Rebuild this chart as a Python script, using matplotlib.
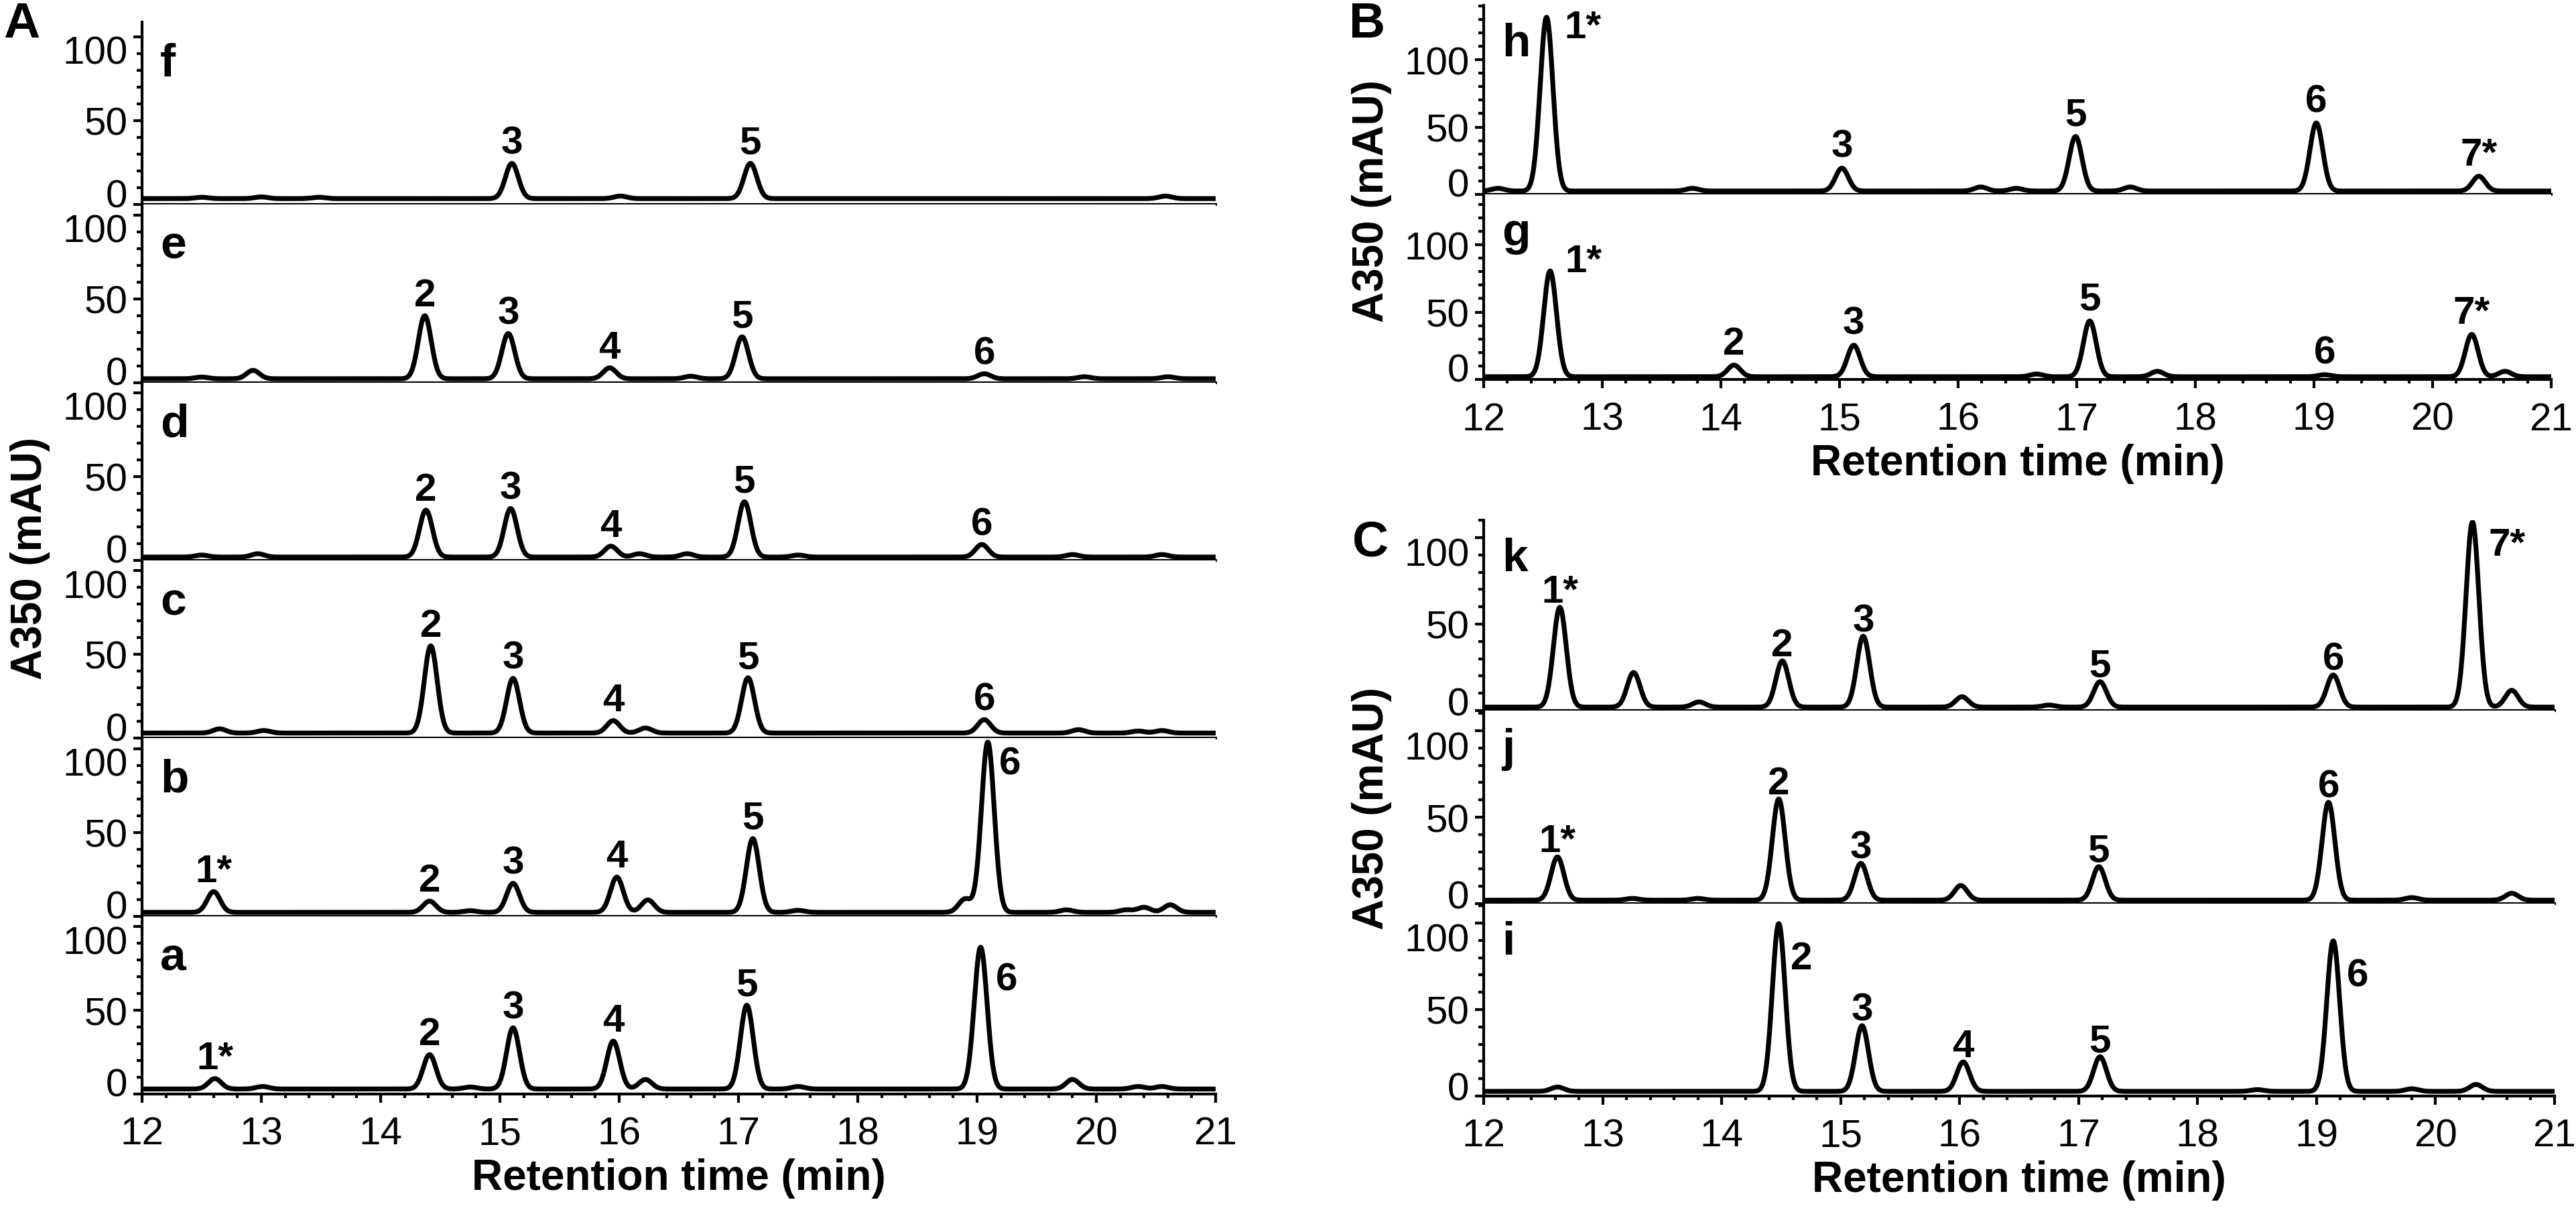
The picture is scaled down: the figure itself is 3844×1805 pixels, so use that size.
import numpy as np
import matplotlib
matplotlib.use("Agg")
import matplotlib.pyplot as plt
from matplotlib.ticker import MultipleLocator, FixedLocator
from matplotlib.transforms import ScaledTranslation

plt.rcParams["font.family"] = ["Liberation Sans", "DejaVu Sans"]

# peak tables:
# retention time (min), height above baseline (mAU), peak label
f_base = 3.5
f_rt = [12.5, 13.0, 13.48, 15.10, 16.01, 17.10, 20.58]
f_h = [0.8, 1.0, 0.8, 21, 1.5, 21, 1.5]
f_lab = ["", "", "", "3", "", "5", ""]

e_base = 2.4
e_rt = [12.5, 12.93, 14.37, 15.07, 15.92, 16.6, 17.03, 19.06, 19.9, 20.6]
e_h = [1.0, 5, 37.6, 27, 6.5, 1.5, 25, 3, 1.2, 1.2]
e_lab = ["", "", "2", "3", "4", "", "5", "6", "", ""]

d_base = 2.0
d_rt = [12.5, 12.97, 14.38, 15.09, 15.93, 16.17, 16.57, 17.05, 17.5, 19.04, 19.8, 20.55]
d_h = [1.2, 2, 28, 29, 6.5, 2, 2, 33, 1.2, 7.5, 1.5, 1.5]
d_lab = ["", "", "2", "3", "4", "", "", "5", "", "6", "", ""]

c_base = 3.0
c_rt = [12.65, 13.02, 14.42, 15.11, 15.95, 16.22, 17.08, 19.06, 19.85, 20.35, 20.55]
c_h = [2.5, 1.5, 52, 32.6, 7.4, 3, 33, 8, 2, 1.2, 1.5]
c_lab = ["", "", "2", "3", "4", "", "5", "6", "", "", ""]

b_base = 2.4
b_rt = [12.60, 14.41, 14.75, 15.11, 15.98, 16.24, 17.12, 17.5, 18.9, 19.09, 19.75, 20.25, 20.4, 20.62]
b_h = [12.4, 6.7, 1.0, 17.3, 21, 7.4, 44, 1.2, 8, 101.6, 1.5, 1.5, 3, 4.5]
b_lab = ["1*", "2", "", "3", "4", "", "5", "", "", "6", "", "", "", ""]

a_base = 3.0
a_rt = [12.61, 13.01, 14.41, 14.75, 15.11, 15.95, 16.22, 17.07, 17.5, 19.03, 19.80, 20.35, 20.55]
a_h = [6.2, 1.5, 20.5, 1.2, 36.5, 28.6, 5.7, 50, 1.5, 84.6, 5.7, 1.5, 1.5]
a_lab = ["1*", "", "2", "", "3", "4", "", "5", "", "6", "", "", ""]

h_base = 2.5
h_rt = [12.12, 12.53, 13.76, 15.02, 16.19, 16.49, 16.99, 17.45, 19.02, 20.39]
h_h = [2, 129, 2, 17, 3, 2, 40.5, 3, 50.5, 11]
h_lab = ["", "1*", "", "3", "", "", "5", "", "6", "7*"]

g_base = 2.0
g_rt = [12.56, 14.11, 15.12, 16.66, 17.11, 17.68, 19.09, 20.33, 20.61]
g_h = [78.5, 8.6, 23.4, 2, 41.4, 4, 1.5, 31.4, 4]
g_lab = ["1*", "2", "3", "", "5", "", "6", "7*", ""]

k_base = 2.0
k_rt = [12.64, 13.26, 13.81, 14.51, 15.19, 16.02, 16.75, 17.18, 19.14, 20.31, 20.64]
k_h = [57.7, 20, 3, 26.7, 41, 6, 1.2, 14.7, 18.6, 107, 9.7]
k_lab = ["1*", "", "", "2", "3", "", "", "5", "6", "7*", ""]

j_base = 2.0
j_rt = [12.62, 13.25, 13.8, 14.48, 15.17, 16.01, 17.17, 19.10, 19.8, 20.64]
j_h = [25, 1, 1, 58.5, 21.3, 8.5, 19.4, 56.6, 1.5, 4]
j_lab = ["1*", "", "", "2", "3", "", "5", "6", "", ""]

i_base = 2.7
i_rt = [12.62, 14.48, 15.18, 16.03, 17.18, 18.5, 19.14, 19.8, 20.34]
i_h = [2.5, 97, 38, 17, 20, 1, 87, 1.5, 4]
i_lab = ["", "2", "3", "4", "5", "", "6", "", ""]

traces = {
    "a": (a_base, a_rt, a_h, a_lab), "b": (b_base, b_rt, b_h, b_lab),
    "c": (c_base, c_rt, c_h, c_lab), "d": (d_base, d_rt, d_h, d_lab),
    "e": (e_base, e_rt, e_h, e_lab), "f": (f_base, f_rt, f_h, f_lab),
    "g": (g_base, g_rt, g_h, g_lab), "h": (h_base, h_rt, h_h, h_lab),
    "i": (i_base, i_rt, i_h, i_lab), "j": (j_base, j_rt, j_h, j_lab),
    "k": (k_base, k_rt, k_h, k_lab),
}

# ---- layout (pixels of the 3844x1806 canvas) ----
W, H, DPI = 3844, 1806, 200
PT = 72.0 / DPI  # points per pixel

columns = [
    # name, x0, x1, px per mAU, label gap px, rows (letter, top, bottom)
    ("A", 212, 1814, 2.5, 30, [("f", 34, 306), ("e", 306, 572), ("d", 572, 837),
                               ("c", 837, 1102), ("b", 1102, 1368), ("a", 1368, 1633)]),
    ("B", 2214, 3807, 2.01, 32, [("h", 9, 291), ("g", 291, 567)]),
    ("C", 2214, 3812, 2.58, 23, [("k", 777, 1061), ("j", 1061, 1349), ("i", 1349, 1636)]),
]

# the 0 / 100 tick labels sit nudged toward the panel middle (px, up positive)
label_nudge = {"A": {0: 18, 100: -19}, "B": {0: 18}, "C": {0: 15, 100: -21}}

# labels drawn beside the peak (dx, dy in px from the peak apex)
side_labels = {
    ("b", "6"): (17, -33), ("a", "6"): (23, -48),
    ("h", "1*"): (27, -15), ("g", "1*"): (22, 14),
    ("i", "2"): (18, -52), ("i", "6"): (20, -52), ("k", "7*"): (24, -34),
}

big_letters = {"A": (32, 36), "B": (2040, 37), "C": (2045, 810)}
ylabel_pos = {"A": (45, 833), "B": (2047, 300), "C": (2047, 1206)}

LW_AX = 1.5
LW_TR = 2.6
t = np.linspace(12, 21, 3000)
SIGMA = 0.054

fig = plt.figure(figsize=(W / DPI, H / DPI), dpi=DPI)

for col, x0, x1, scale, gap, rows in columns:
    for n, (letter, top, bot) in enumerate(rows):
        ax = fig.add_axes([x0 / W, 1 - bot / H, (x1 - x0) / W, (bot - top) / H])
        ax.set_xlim(12, 21)
        ax.set_ylim(0, (bot - top) / scale)
        for s in ["top", "right"]:
            ax.spines[s].set_visible(False)
        ax.spines["left"].set_linewidth(LW_AX)
        ax.spines["bottom"].set_linewidth(LW_AX)

        ax.yaxis.set_major_locator(FixedLocator([0, 50, 100]))
        ax.yaxis.set_minor_locator(MultipleLocator(10))
        ax.tick_params(axis="y", which="major", length=4.7, width=LW_AX, pad=3, labelsize=21)
        ax.tick_params(axis="y", which="minor", length=2.9, width=LW_AX)
        for tk, loc in zip(ax.yaxis.get_major_ticks(), [0, 50, 100]):
            dy = label_nudge[col].get(loc, 0)
            if dy:
                tk.label1.set_transform(tk.label1.get_transform()
                                        + ScaledTranslation(0, dy / DPI, fig.dpi_scale_trans))

        last = n == len(rows) - 1
        if last:
            ax.xaxis.set_major_locator(MultipleLocator(1))
            ax.xaxis.set_minor_locator(MultipleLocator(0.2))
            ax.tick_params(axis="x", which="major", length=4.7, width=LW_AX, pad=7, labelsize=21)
            ax.tick_params(axis="x", which="minor", length=2.2, width=LW_AX)
            ax.text(0.5, -125 / (bot - top), "Retention time (min)", transform=ax.transAxes,
                    ha="center", va="center", fontsize=23, fontweight="bold")
        else:
            ax.tick_params(axis="x", which="both", bottom=False, labelbottom=False)

        base, rts, hts, labs = traces[letter]
        y = np.full_like(t, base)
        for r, hgt in zip(rts, hts):
            y += hgt * np.exp(-0.5 * ((t - r) / SIGMA) ** 2)
        ax.plot(t, y, color="black", lw=LW_TR, solid_joinstyle="round")

        for r, hgt, lab in zip(rts, hts, labs):
            if not lab:
                continue
            if (letter, lab) in side_labels:
                dx, dy = side_labels[(letter, lab)]
                ax.annotate(lab, (r, base + hgt), xytext=(dx * PT, dy * PT),
                            textcoords="offset points", ha="left", va="center",
                            fontsize=21, fontweight="bold", annotation_clip=False)
            else:
                ax.annotate(lab, (r, base + hgt), xytext=(0, gap * PT),
                            textcoords="offset points", ha="center", va="center",
                            fontsize=21, fontweight="bold", annotation_clip=False)

        ax.text(27 / (x1 - x0), 1 - (80 if col == "A" else 75) / (bot - top), letter,
                transform=ax.transAxes, ha="left", va="baseline",
                fontsize=25, fontweight="bold")

for col, (px, py) in big_letters.items():
    fig.text(px / W, 1 - py / H, col, ha="center", va="center", fontsize=27, fontweight="bold")
for col, (px, py) in ylabel_pos.items():
    fig.text(px / W, 1 - py / H, "A350 (mAU)", ha="center", va="center", rotation=90,
             fontsize=23, fontweight="bold")

fig.savefig("out.png", dpi=DPI)
